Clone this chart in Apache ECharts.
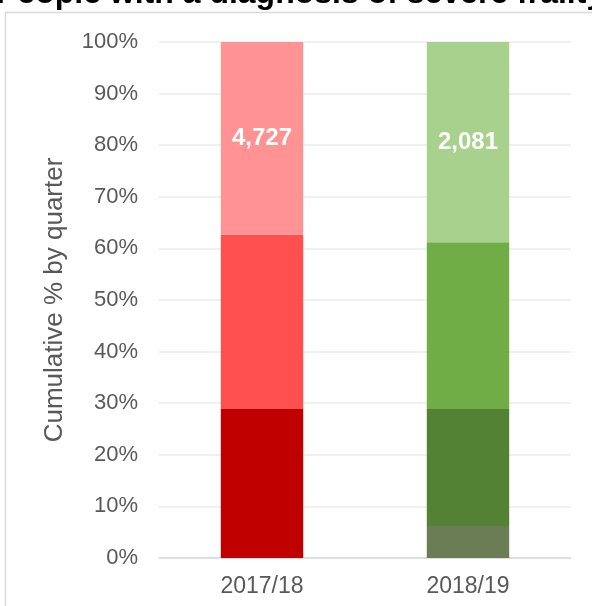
<!DOCTYPE html>
<html>
<head>
<meta charset="utf-8">
<script src="https://cdn.jsdelivr.net/npm/echarts@6/dist/echarts.min.js"></script>
<style>
  html, body { margin: 0; padding: 0; background: #fff; }
  #chart { width: 592px; height: 606px; }
</style>
</head>
<body>
<div id="chart"></div>
<script>
// financial years
const years = ['2017/18', '2018/19']

// share of the year's total added in each part (% , bottom to top)
const part1 = [0, 6.2]
const part2 = [28.9, 22.7]
const part3 = [33.8, 32.3]
const part4 = [37.3, 38.8]

// yearly totals shown on the top segment
const totals = [4727, 2081]

const yTicks = [0, 10, 20, 30, 40, 50, 60, 70, 80, 90, 100]

const reds = ['#c00000', '#c00000', '#ff5050', '#ff9393']
const greens = ['#6b7d55', '#548235', '#70ad47', '#a9d18e']

const font = 'Liberation Sans, Arial, sans-serif'

const chart = echarts.init(document.getElementById('chart'))

function makeSeries(data, idx) {
  return {
    type: 'bar',
    stack: 'total',
    barWidth: '40%',
    data: data.map((v, i) => ({
      value: v,
      itemStyle: { color: i === 0 ? reds[idx] : greens[idx] }
    })),
    label: idx === 3 ? {
      show: true,
      position: 'inside',
      color: '#fff',
      fontWeight: 'bold',
      fontSize: 24,
      fontFamily: font,
      formatter: (p) => totals[p.dataIndex].toLocaleString('en-GB')
    } : { show: false }
  }
}

chart.setOption({
  animation: false,
  grid: {
    left: 159,
    right: 21,
    top: 42,
    bottom: 48
  },
  graphic: [
    {
      type: 'rect',
      shape: { x: 5.5, y: 12.5, width: 700, height: 700 },
      style: { fill: 'none', stroke: '#d9d9d9', lineWidth: 1.5 },
      silent: true
    },
    {
      type: 'text',
      left: -4,
      top: -22,
      style: {
        text: 'People with a diagnosis of severe frailty',
        font: 'bold 32px ' + font,
        fill: '#000'
      },
      silent: true
    }
  ],
  xAxis: {
    type: 'category',
    data: years,
    axisTick: { show: false },
    axisLine: { lineStyle: { color: '#d9d9d9', width: 1.5 } },
    axisLabel: {
      color: '#595959',
      fontSize: 23,
      margin: 17,
      fontFamily: font
    }
  },
  yAxis: {
    type: 'value',
    min: 0,
    max: 100,
    interval: 10,
    name: 'Cumulative % by quarter',
    nameLocation: 'middle',
    nameGap: 91,
    nameTextStyle: {
      color: '#595959',
      fontSize: 26,
      fontFamily: font
    },
    axisLabel: {
      color: '#595959',
      fontSize: 22,
      margin: 21,
      fontFamily: font,
      formatter: (v) => yTicks.includes(v) ? v + '%' : ''
    },
    splitLine: { lineStyle: { color: '#ebebeb', width: 1.5 } }
  },
  series: [part1, part2, part3, part4].map(makeSeries)
})
</script>
</body>
</html>
